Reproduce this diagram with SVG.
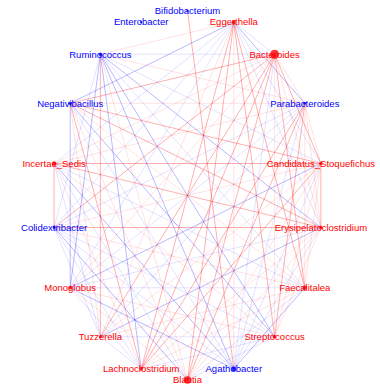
<svg xmlns="http://www.w3.org/2000/svg" width="380" height="388" viewBox="0 0 380 388">
<style>
line{stroke-width:0.9;fill:none}
.r1{stroke:#f00;stroke-opacity:.13}.r2{stroke:#f00;stroke-opacity:.34}
.b1{stroke:#00f;stroke-opacity:.13}.b2{stroke:#00f;stroke-opacity:.3}
text{font-family:"Liberation Sans",Arial,Helvetica,sans-serif;font-size:9.5px;text-anchor:middle}
.lr{fill:#f00}.lb{fill:#00f}
.dr{fill:#f00;fill-opacity:.8}.db{fill:#00f;fill-opacity:.8}
</style>
<rect width="380" height="388" fill="#fff"/>
<g id="edges">
<line class="r1" x1="233.8" y1="22.1" x2="100.4" y2="54.2"/>
<line class="b2" x1="233.8" y1="22.1" x2="70.2" y2="103.3"/>
<line class="b1" x1="233.8" y1="22.1" x2="54.1" y2="163.5"/>
<line class="b1" x1="233.8" y1="22.1" x2="54.1" y2="227.5"/>
<line class="b1" x1="233.8" y1="22.1" x2="70.2" y2="287.8"/>
<line class="r1" x1="233.8" y1="22.1" x2="100.4" y2="336.8"/>
<line class="r2" x1="233.8" y1="22.1" x2="141.2" y2="368.9"/>
<line class="r2" x1="233.8" y1="22.1" x2="187.5" y2="380"/>
<line class="r1" x1="233.8" y1="22.1" x2="233.8" y2="368.9"/>
<line class="r2" x1="233.8" y1="22.1" x2="274.6" y2="336.8"/>
<line class="r2" x1="233.8" y1="22.1" x2="304.8" y2="287.8"/>
<line class="b1" x1="233.8" y1="22.1" x2="320.9" y2="227.5"/>
<line class="b1" x1="233.8" y1="22.1" x2="320.9" y2="163.5"/>
<line class="b2" x1="233.8" y1="22.1" x2="304.8" y2="103.3"/>
<line class="b1" x1="233.8" y1="22.1" x2="274.6" y2="54.2"/>
<line class="b1" x1="274.6" y1="54.2" x2="100.4" y2="54.2"/>
<line class="r2" x1="274.6" y1="54.2" x2="70.2" y2="103.3"/>
<line class="r1" x1="274.6" y1="54.2" x2="54.1" y2="163.5"/>
<line class="r2" x1="274.6" y1="54.2" x2="54.1" y2="227.5"/>
<line class="r1" x1="274.6" y1="54.2" x2="70.2" y2="287.8"/>
<line class="r2" x1="274.6" y1="54.2" x2="100.4" y2="336.8"/>
<line class="r2" x1="274.6" y1="54.2" x2="141.2" y2="368.9"/>
<line class="r2" x1="274.6" y1="54.2" x2="187.5" y2="380"/>
<line class="b1" x1="274.6" y1="54.2" x2="233.8" y2="368.9"/>
<line class="r1" x1="274.6" y1="54.2" x2="274.6" y2="336.8"/>
<line class="r2" x1="274.6" y1="54.2" x2="304.8" y2="287.8"/>
<line class="r1" x1="274.6" y1="54.2" x2="320.9" y2="227.5"/>
<line class="r2" x1="274.6" y1="54.2" x2="320.9" y2="163.5"/>
<line class="r1" x1="274.6" y1="54.2" x2="304.8" y2="103.3"/>
<line class="b1" x1="100.4" y1="54.2" x2="54.1" y2="227.5"/>
<line class="b2" x1="100.4" y1="54.2" x2="70.2" y2="287.8"/>
<line class="r2" x1="100.4" y1="54.2" x2="100.4" y2="336.8"/>
<line class="b2" x1="100.4" y1="54.2" x2="141.2" y2="368.9"/>
<line class="r1" x1="100.4" y1="54.2" x2="187.5" y2="380"/>
<line class="b2" x1="100.4" y1="54.2" x2="233.8" y2="368.9"/>
<line class="b2" x1="100.4" y1="54.2" x2="274.6" y2="336.8"/>
<line class="b1" x1="100.4" y1="54.2" x2="304.8" y2="287.8"/>
<line class="b2" x1="100.4" y1="54.2" x2="320.9" y2="227.5"/>
<line class="b1" x1="100.4" y1="54.2" x2="320.9" y2="163.5"/>
<line class="r1" x1="100.4" y1="54.2" x2="304.8" y2="103.3"/>
<line class="b2" x1="70.2" y1="103.3" x2="70.2" y2="287.8"/>
<line class="r1" x1="70.2" y1="103.3" x2="100.4" y2="336.8"/>
<line class="r2" x1="70.2" y1="103.3" x2="141.2" y2="368.9"/>
<line class="r1" x1="70.2" y1="103.3" x2="187.5" y2="380"/>
<line class="b1" x1="70.2" y1="103.3" x2="233.8" y2="368.9"/>
<line class="b2" x1="70.2" y1="103.3" x2="274.6" y2="336.8"/>
<line class="r1" x1="70.2" y1="103.3" x2="304.8" y2="287.8"/>
<line class="r2" x1="70.2" y1="103.3" x2="320.9" y2="227.5"/>
<line class="r2" x1="70.2" y1="103.3" x2="320.9" y2="163.5"/>
<line class="r1" x1="70.2" y1="103.3" x2="304.8" y2="103.3"/>
<line class="r2" x1="54.1" y1="163.5" x2="54.1" y2="227.5"/>
<line class="r2" x1="54.1" y1="163.5" x2="320.9" y2="163.5"/>
<line class="r2" x1="54.1" y1="163.5" x2="320.9" y2="227.5"/>
<line class="b1" x1="54.1" y1="163.5" x2="100.4" y2="336.8"/>
<line class="r1" x1="54.1" y1="163.5" x2="141.2" y2="368.9"/>
<line class="b1" x1="54.1" y1="163.5" x2="187.5" y2="380"/>
<line class="b2" x1="54.1" y1="163.5" x2="233.8" y2="368.9"/>
<line class="r1" x1="54.1" y1="163.5" x2="274.6" y2="336.8"/>
<line class="r1" x1="54.1" y1="163.5" x2="304.8" y2="103.3"/>
<line class="b1" x1="54.1" y1="163.5" x2="304.8" y2="287.8"/>
<line class="r2" x1="54.1" y1="227.5" x2="320.9" y2="227.5"/>
<line class="r1" x1="54.1" y1="227.5" x2="320.9" y2="163.5"/>
<line class="b1" x1="54.1" y1="227.5" x2="304.8" y2="103.3"/>
<line class="b1" x1="54.1" y1="227.5" x2="100.4" y2="336.8"/>
<line class="b1" x1="54.1" y1="227.5" x2="141.2" y2="368.9"/>
<line class="b2" x1="54.1" y1="227.5" x2="187.5" y2="380"/>
<line class="b1" x1="54.1" y1="227.5" x2="274.6" y2="336.8"/>
<line class="r1" x1="54.1" y1="227.5" x2="304.8" y2="287.8"/>
<line class="b1" x1="54.1" y1="227.5" x2="233.8" y2="368.9"/>
<line class="b1" x1="70.2" y1="287.8" x2="304.8" y2="287.8"/>
<line class="b2" x1="70.2" y1="287.8" x2="320.9" y2="163.5"/>
<line class="b1" x1="70.2" y1="287.8" x2="304.8" y2="103.3"/>
<line class="b1" x1="70.2" y1="287.8" x2="141.2" y2="368.9"/>
<line class="b2" x1="70.2" y1="287.8" x2="233.8" y2="368.9"/>
<line class="r1" x1="70.2" y1="287.8" x2="274.6" y2="336.8"/>
<line class="b1" x1="70.2" y1="287.8" x2="320.9" y2="227.5"/>
<line class="r1" x1="70.2" y1="287.8" x2="187.5" y2="380"/>
<line class="b1" x1="100.4" y1="336.8" x2="274.6" y2="336.8"/>
<line class="r1" x1="100.4" y1="336.8" x2="320.9" y2="163.5"/>
<line class="b1" x1="100.4" y1="336.8" x2="304.8" y2="103.3"/>
<line class="b2" x1="100.4" y1="336.8" x2="320.9" y2="227.5"/>
<line class="r1" x1="100.4" y1="336.8" x2="304.8" y2="287.8"/>
<line class="b1" x1="100.4" y1="336.8" x2="141.2" y2="368.9"/>
<line class="r2" x1="141.2" y1="368.9" x2="304.8" y2="103.3"/>
<line class="r2" x1="141.2" y1="368.9" x2="320.9" y2="163.5"/>
<line class="r1" x1="141.2" y1="368.9" x2="320.9" y2="227.5"/>
<line class="r1" x1="141.2" y1="368.9" x2="304.8" y2="287.8"/>
<line class="b1" x1="141.2" y1="368.9" x2="274.6" y2="336.8"/>
<line class="r1" x1="187.5" y1="380" x2="320.9" y2="163.5"/>
<line class="r2" x1="187.5" y1="380" x2="304.8" y2="103.3"/>
<line class="b1" x1="187.5" y1="380" x2="304.8" y2="287.8"/>
<line class="r1" x1="187.5" y1="380" x2="320.9" y2="227.5"/>
<line class="b1" x1="187.5" y1="380" x2="274.6" y2="336.8"/>
<line class="r2" x1="233.8" y1="368.9" x2="187.5" y2="11"/>
<line class="b1" x1="233.8" y1="368.9" x2="304.8" y2="103.3"/>
<line class="b1" x1="233.8" y1="368.9" x2="320.9" y2="163.5"/>
<line class="b2" x1="233.8" y1="368.9" x2="304.8" y2="287.8"/>
<line class="b1" x1="233.8" y1="368.9" x2="320.9" y2="227.5"/>
<line class="r1" x1="274.6" y1="336.8" x2="320.9" y2="163.5"/>
<line class="r2" x1="274.6" y1="336.8" x2="304.8" y2="103.3"/>
<line class="r1" x1="274.6" y1="336.8" x2="320.9" y2="227.5"/>
<line class="r1" x1="304.8" y1="287.8" x2="304.8" y2="103.3"/>
<line class="r1" x1="304.8" y1="287.8" x2="320.9" y2="163.5"/>
<line class="r2" x1="320.9" y1="163.5" x2="320.9" y2="227.5"/>
<line class="r1" x1="320.9" y1="163.5" x2="304.8" y2="103.3"/>
<line class="r1" x1="304.8" y1="103.3" x2="320.9" y2="227.5"/>
</g>
<g id="n-candidatus"><circle class="dr" cx="320.9" cy="163.5" r="1.8"/><text class="lr" x="320.9" y="166.8">Candidatus_Stoquefichus</text></g>
<g id="n-parabacteroides"><circle class="db" cx="304.8" cy="103.3" r="1.5"/><text class="lb" x="304.8" y="106.6">Parabacteroides</text></g>
<g id="n-bacteroides"><circle class="dr" cx="274.6" cy="54.2" r="4.5"/><text class="lr" x="274.6" y="57.5">Bacteroides</text></g>
<g id="n-eggerthella"><circle class="dr" cx="233.8" cy="22.1" r="2"/><text class="lr" x="233.8" y="25.4">Eggerthella</text></g>
<g id="n-bifidobacterium"><circle class="db" cx="187.5" cy="11" r="1.2"/><text class="lb" x="187.5" y="14.3">Bifidobacterium</text></g>
<g id="n-enterobacter"><circle class="db" cx="141.2" cy="22.1" r="1.2"/><text class="lb" x="141.2" y="25.4">Enterobacter</text></g>
<g id="n-ruminococcus"><circle class="db" cx="100.4" cy="54.2" r="1.8"/><text class="lb" x="100.4" y="57.5">Ruminococcus</text></g>
<g id="n-negativibacillus"><circle class="db" cx="70.2" cy="103.3" r="1.8"/><text class="lb" x="70.2" y="106.6">Negativibacillus</text></g>
<g id="n-incertae"><circle class="dr" cx="54.1" cy="163.5" r="2.2"/><text class="lr" x="54.1" y="166.8">Incertae_Sedis</text></g>
<g id="n-colidextribacter"><circle class="db" cx="54.1" cy="227.5" r="1.5"/><text class="lb" x="54.1" y="230.8">Colidextribacter</text></g>
<g id="n-monoglobus"><circle class="dr" cx="70.2" cy="287.8" r="1.8"/><text class="lr" x="70.2" y="291.1">Monoglobus</text></g>
<g id="n-tuzzerella"><circle class="dr" cx="100.4" cy="336.8" r="1.5"/><text class="lr" x="100.4" y="340.1">Tuzzerella</text></g>
<g id="n-lachnoclostridium"><circle class="dr" cx="141.2" cy="368.9" r="1.8"/><text class="lr" x="141.2" y="372.2">Lachnoclostridium</text></g>
<g id="n-blautia"><circle class="dr" cx="187.5" cy="380" r="3.8"/><text class="lr" x="187.5" y="383.3">Blautia</text></g>
<g id="n-agathobacter"><circle class="db" cx="233.8" cy="368.9" r="2.5"/><text class="lb" x="233.8" y="372.2">Agathobacter</text></g>
<g id="n-streptococcus"><circle class="dr" cx="274.6" cy="336.8" r="1.8"/><text class="lr" x="274.6" y="340.1">Streptococcus</text></g>
<g id="n-faecalitalea"><circle class="dr" cx="304.8" cy="287.8" r="2.2"/><text class="lr" x="304.8" y="291.1">Faecalitalea</text></g>
<g id="n-erysipelatoclostridium"><circle class="dr" cx="320.9" cy="227.5" r="1.8"/><text class="lr" x="320.9" y="230.8">Erysipelatoclostridium</text></g>
</svg>
